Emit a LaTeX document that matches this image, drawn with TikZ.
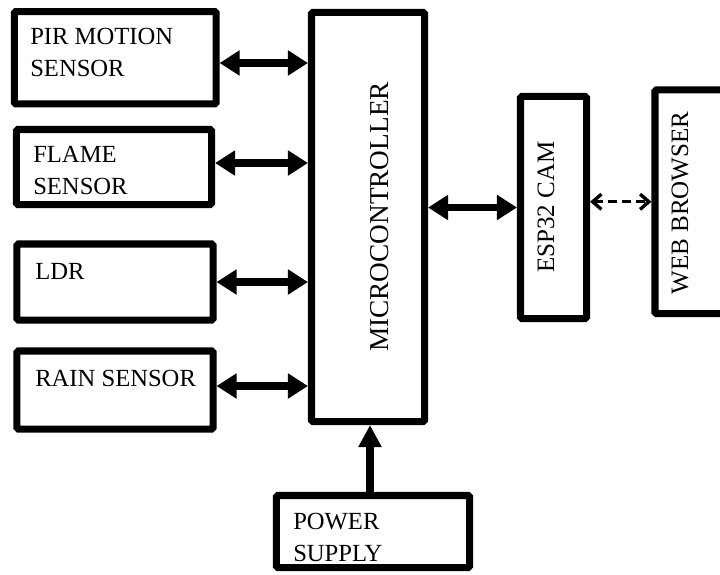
\documentclass[tikz,border=0pt]{standalone}
\usepackage{fontspec}
\setmainfont{Liberation Serif}
\usetikzlibrary{arrows.meta}

\begin{document}
\begin{tikzpicture}[x=0.025cm, y=-0.025cm,
  blk/.style={draw, rectangle, line width=5pt, rounded corners=1pt, inner sep=0pt},
  txt/.style={anchor=base west, align=left, inner sep=0pt, font=\fontsize{17.5}{22.3}\selectfont},
  vtxt/.style={rotate=90, inner sep=0pt, font=\fontsize{17.8}{21}\selectfont},
  link/.style={line width=5pt, {Triangle[length=0.5cm,width=0.6cm]}-{Triangle[length=0.5cm,width=0.6cm]}},
  feed/.style={line width=5pt, -{Triangle[length=0.55cm,width=0.55cm]}},
  wifi/.style={line width=2.4pt, dash pattern=on 6pt off 4pt, {Straight Barb[length=0.22cm,width=0.38cm]}-{Straight Barb[length=0.22cm,width=0.38cm]}}]
  \useasboundingbox (0,0) rectangle (720,574);
  \clip (0,0) rectangle (720,574);

  % Sensors
  \node[blk, minimum width=5.04cm, minimum height=2.31cm] (pir) at (115.25,57.75) {};
  \node[blk, minimum width=4.875cm, minimum height=1.875cm] (flame) at (114,167) {};
  \node[blk, minimum width=4.9cm, minimum height=1.9cm] (ldr) at (115,282) {};
  \node[blk, minimum width=4.9cm, minimum height=1.95cm] (rain) at (115,390) {};

  \node[txt] (pirtxt) at (30,76) {PIR MOTION\\SENSOR};
  \node[txt] (flametxt) at (33,194) {FLAME\\SENSOR};
  \node[txt] (ldrtxt) at (35,279) {LDR};
  \node[txt] (raintxt) at (35,386) {RAIN SENSOR};

  % Controller, camera and browser
  \node[blk, minimum width=2.825cm, minimum height=10.225cm] (mcu) at (368,217) {};
  \node[blk, minimum width=1.65cm, minimum height=5.55cm] (esp) at (553.5,207.5) {};
  \node[blk, minimum width=1.725cm, minimum height=5.59cm] (web) at (689.5,201.75) {};

  \node[vtxt, font=\fontsize{19.4}{22}\selectfont] (mcutxt) at (380,217) {MICROCONTROLLER};
  \node[vtxt] (esptxt) at (546,207) {ESP32 CAM};
  \node[vtxt] (webtxt) at (680,203) {WEB BROWSER};

  % Supply
  \node[blk, minimum width=4.825cm, minimum height=1.8cm] (psu) at (373,531.5) {};
  \node[txt] (psutxt) at (293,561) {POWER\\SUPPLY};

  \draw[link] (pir.east |- 0,63) -- (mcu.west |- 0,63);
  \draw[link] (flame.east |- 0,163) -- (mcu.west |- 0,163);
  \draw[link] (ldr.east) -- (ldr.east -| mcu.west);
  \draw[link] (rain.east |- 0,386) -- (mcu.west |- 0,386);
  \draw[link] (mcu.east |- esp.west) -- (esp.west);
  \draw[wifi] (esp.east |- web.west) -- (web.west);
  \draw[feed] (370,0 |- psu.north) -- (370,0 |- mcu.south);
\end{tikzpicture}
\end{document}
